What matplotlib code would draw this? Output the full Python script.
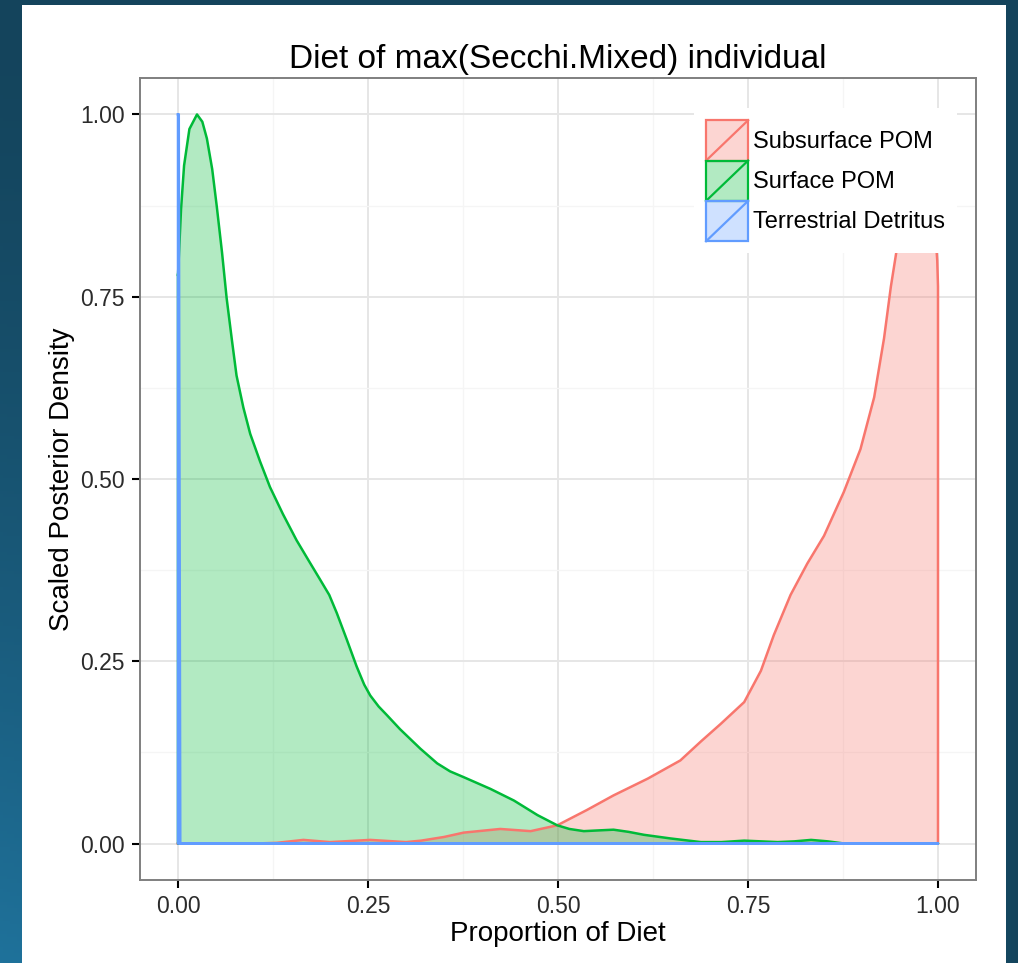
import matplotlib.pyplot as plt
import numpy as np
from matplotlib.patches import Rectangle, Patch
from matplotlib.lines import Line2D
from matplotlib.legend_handler import HandlerBase

plt.rcParams['font.family'] = ['Liberation Sans', 'DejaVu Sans']

# values
sources = ['Subsurface POM', 'Surface POM', 'Terrestrial Detritus']
colors = ['#F8766D', '#00BA38', '#619CFF']

sub_x = [0.0, 0.1, 0.13, 0.165, 0.2, 0.253, 0.3, 0.32, 0.35, 0.376, 0.424, 0.464,
         0.499, 0.538, 0.573, 0.618, 0.661, 0.688, 0.714, 0.745, 0.767, 0.784,
         0.806, 0.828, 0.850, 0.876, 0.898, 0.916, 0.929, 0.938, 0.945, 0.955,
         0.97, 0.985, 0.995, 0.999, 1.0]
sub_y = [0.0, 0.0, 0.001, 0.005, 0.002, 0.005, 0.002, 0.004, 0.009, 0.015, 0.02, 0.017,
         0.025, 0.046, 0.066, 0.089, 0.114, 0.140, 0.164, 0.194, 0.237, 0.286,
         0.341, 0.384, 0.422, 0.482, 0.541, 0.612, 0.693, 0.764, 0.81, 0.9,
         1.0, 0.96, 0.86, 0.80, 0.764]

surf_x = [0.0, 0.004, 0.008, 0.015, 0.025, 0.032, 0.038, 0.045, 0.051, 0.058, 0.064,
          0.071, 0.077, 0.086, 0.095, 0.108, 0.121, 0.138, 0.156, 0.172, 0.187,
          0.199, 0.209, 0.222, 0.235, 0.245, 0.253, 0.264, 0.275, 0.292, 0.319,
          0.341, 0.358, 0.376, 0.411, 0.442, 0.473, 0.499, 0.515, 0.534, 0.553,
          0.573, 0.593, 0.613, 0.648, 0.688, 0.715, 0.745, 0.767, 0.789, 0.811,
          0.833, 0.855, 0.877, 1.0]
surf_y = [0.78, 0.87, 0.93, 0.98, 1.0, 0.99, 0.967, 0.925, 0.874, 0.81, 0.748,
          0.69, 0.642, 0.598, 0.562, 0.524, 0.489, 0.452, 0.416, 0.388, 0.362,
          0.341, 0.316, 0.28, 0.243, 0.218, 0.203, 0.188, 0.176, 0.157, 0.130,
          0.110, 0.099, 0.091, 0.075, 0.059, 0.039, 0.025, 0.02, 0.017, 0.018,
          0.019, 0.016, 0.012, 0.007, 0.002, 0.002, 0.004, 0.003, 0.002, 0.003,
          0.005, 0.003, 0.0, 0.0]

terr_x = [0.0, 0.001, 0.003, 1.0]
terr_y = [1.0, 1.0, 0.0, 0.0]

series = [(sub_x, sub_y), (surf_x, surf_y), (terr_x, terr_y)]

xticks = [0.0, 0.25, 0.5, 0.75, 1.0]
yticks = [0.0, 0.25, 0.5, 0.75, 1.0]
ticklabels = ['0.00', '0.25', '0.50', '0.75', '1.00']


class HandlerDiag(HandlerBase):
    # ggplot-style density key: filled box with a diagonal stroke
    def create_artists(self, legend, orig, xd, yd, w, h, fs, trans):
        r = Rectangle((-xd, -yd), w, h, facecolor=orig.get_facecolor(),
                      edgecolor=orig.get_edgecolor(), lw=1.6, transform=trans)
        l = Line2D([-xd, -xd + w], [-yd, -yd + h], color=orig.get_edgecolor(),
                   lw=1.6, transform=trans)
        return [r, l]


fig = plt.figure(figsize=(10.18, 9.63), dpi=100)

# slide background
bg = fig.add_axes([0, 0, 1, 1], zorder=-10)
bg.axis('off')
yy, xx = np.mgrid[0:1:300j, 0:1:300j]
t = np.clip(yy ** 1.5 * (1 - xx) ** 0.6, 0, 1)
c0 = np.array([20, 68, 92]) / 255
c1 = np.array([31, 114, 155]) / 255
img = c0 + (c1 - c0) * t[..., None]
bg.imshow(img, extent=[0, 1, 0, 1], aspect='auto')
bg.add_patch(Rectangle((22 / 1018, 0), (1006 - 22) / 1018, 1 - 5 / 963,
                       facecolor='white', edgecolor='none'))
bg.set_xlim(0, 1)
bg.set_ylim(0, 1)

ax = fig.add_axes([140 / 1018, 1 - 880 / 963, (976 - 140) / 1018, (880 - 78) / 963])
ax.set_facecolor('white')

for (xs, ys), c in zip(series, colors):
    px = list(xs) + [xs[-1], xs[0], xs[0]]
    py = list(ys) + [0.0, 0.0, ys[0]]
    ax.fill(px, py, facecolor=c, alpha=0.3, edgecolor='none', zorder=3)
    ax.plot(px, py, color=c, lw=1.8, zorder=4, solid_joinstyle='round')

ax.set_xlim(-0.05, 1.05)
ax.set_ylim(-0.05, 1.05)
ax.set_xticks(xticks)
ax.set_xticklabels(ticklabels)
ax.set_yticks(yticks)
ax.set_yticklabels(ticklabels)
ax.set_xticks([0.125, 0.375, 0.625, 0.875], minor=True)
ax.set_yticks([0.125, 0.375, 0.625, 0.875], minor=True)
ax.grid(which='major', color='#E6E6E6', lw=1.4, zorder=0)
ax.grid(which='minor', color='#F5F5F5', lw=1.0, zorder=0)
ax.set_axisbelow(True)
ax.tick_params(which='major', length=6, width=1.5, color='black',
               labelsize=16.5, labelcolor='#2B2B2B', pad=5)
ax.tick_params(which='minor', length=0)
for s in ax.spines.values():
    s.set_color('#7F7F7F')
    s.set_linewidth(1.4)

ax.set_title('Diet of max(Secchi.Mixed) individual', fontsize=24, pad=7)
ax.set_xlabel('Proportion of Diet', fontsize=20, labelpad=2)
ax.set_ylabel('Scaled Posterior Density', fontsize=20, labelpad=4)

handles = [Patch(facecolor=c + '4D', edgecolor=c) for c in colors]
leg = ax.legend(handles, sources, handler_map={Patch: HandlerDiag()},
                loc='upper left', bbox_to_anchor=(0.663, 0.962),
                fontsize=17, frameon=True, fancybox=False, framealpha=1,
                edgecolor='none', facecolor='white', borderaxespad=0,
                borderpad=0.5, labelspacing=0, handlelength=1.78,
                handleheight=2.25, handletextpad=0.2)
leg.set_zorder(10)

fig.savefig('out.png', dpi=100)
